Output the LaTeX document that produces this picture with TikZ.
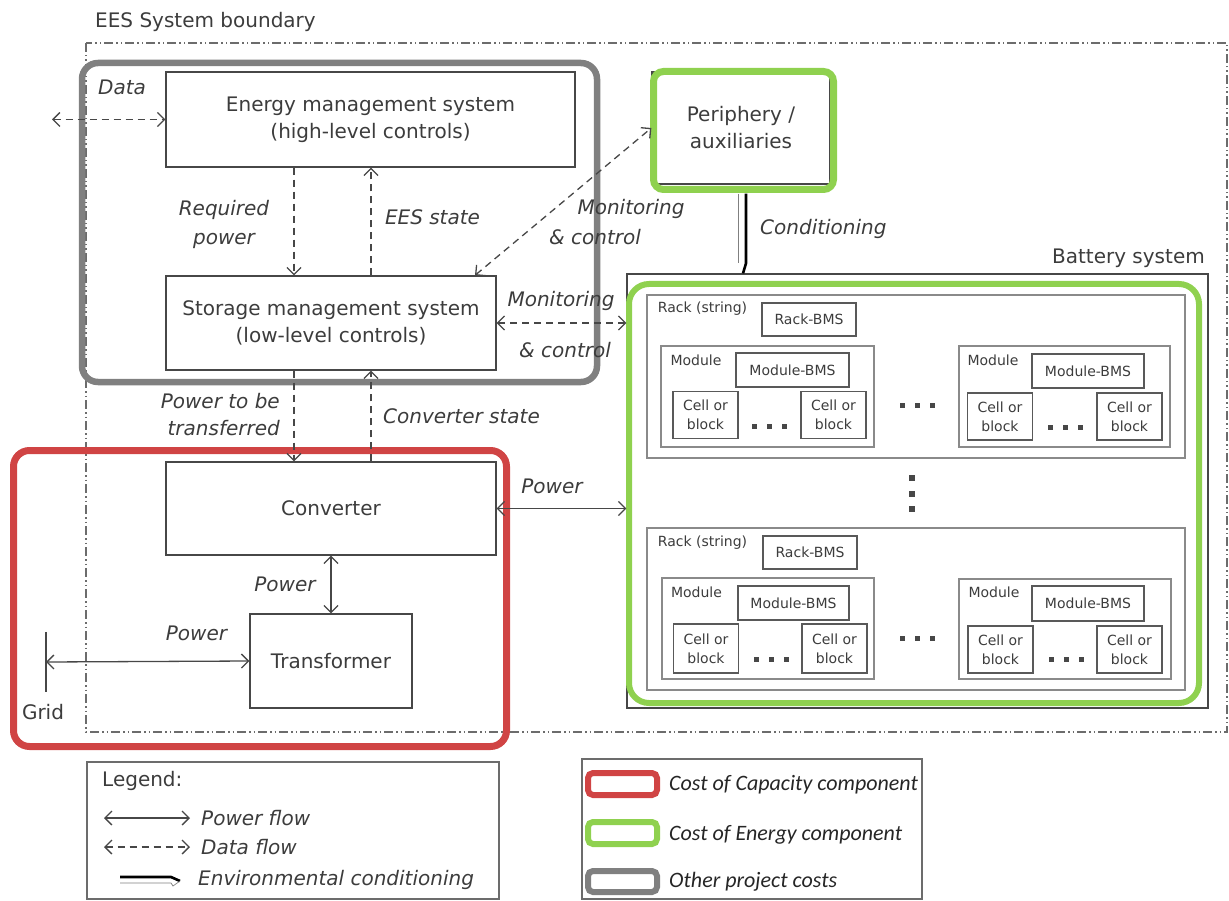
\documentclass[tikz,border=0pt]{standalone}
\usepackage{fontspec}
\setmainfont{DejaVu Sans}
\newfontfamily\carl{Carlito}
\usetikzlibrary{arrows.meta,calc}
\definecolor{txt}{HTML}{3C3C3C}
\definecolor{ln}{HTML}{474747}
\definecolor{frgray}{HTML}{808080}
\definecolor{frred}{HTML}{D04444}
\definecolor{frgreen}{HTML}{8FD14F}
\definecolor{bxgray}{HTML}{8A8A8A}
\newcommand{\sqdots}[2]{\foreach \dx in {-15,0,15}{\fill[ln] ({#1+(\dx)-2.5},{#2-2.5}) rectangle +(5,5);}}
\begin{document}
\begin{tikzpicture}[x=1pt,y=-1pt,
  every node/.style={text=txt, inner sep=0pt},
  >={Straight Barb[length=7pt,width=14pt]},
  mainbox/.style={draw=ln, line width=1.3pt, align=center, font=\fontsize{20}{27}\selectfont},
  lbl/.style={font=\fontsize{20}{29}\selectfont\itshape, align=center},
  uplbl/.style={font=\fontsize{20}{24}\selectfont},
  smalltext/.style={font=\fontsize{14}{19}\selectfont, align=center},
  rackbox/.style={draw=bxgray, line width=1.6pt},
  bmsbox/.style={draw=ln!90, line width=1.4pt, smalltext},
  cellbox/.style={draw=ln!90, line width=1.4pt, smalltext, minimum width=65pt, minimum height=47pt},
  pflow/.style={draw=ln, line width=1.3pt, <->},
  dflowtwo/.style={draw=ln, line width=1.3pt, <->, dash pattern=on 7pt off 5pt},
  dflowone/.style={draw=ln, line width=1.3pt, ->, dash pattern=on 7pt off 5pt},
  legtext/.style={font=\carl\fontsize{22}{24}\selectfont\itshape, anchor=west, text=black!85}
]
\useasboundingbox (0,0) rectangle (1229,901);

% system boundary
\draw[ln!80, line width=1.2pt, dash pattern=on 9pt off 3pt on 1.5pt off 3pt on 1.5pt off 3pt] (86,43) rectangle (1227,732);
\node[uplbl, anchor=west] (eesb) at (95,22) {EES System boundary};

% main boxes
\node[mainbox, minimum width=409pt, minimum height=95pt] (ems) at (370.5,119.5) {Energy management system\\(high-level controls)};
\node[mainbox, minimum width=330pt, minimum height=94pt] (sms) at (331,323) {Storage management system\\(low-level controls)};
\node[mainbox, minimum width=330pt, minimum height=93pt] (conv) at (331,508.5) {Converter};
\node[mainbox, minimum width=162pt, minimum height=94pt] (trans) at (331,661) {Transformer};
\node[mainbox, minimum width=178pt, minimum height=112pt] (peri) at (741,128) {Periphery /\\auxiliaries};
\node[draw=ln, line width=1.3pt, minimum width=581pt, minimum height=434pt] (bat) at (917.5,491) {};
\node[uplbl, anchor=east] (batl) at (1205,258) {Battery system};

% racks
\node[rackbox, minimum width=538pt, minimum height=163pt] (rack1) at (916,376.5) {};
\node[rackbox, minimum width=538pt, minimum height=162pt] (rack2) at (916,609) {};
\node[smalltext] (rl1) at (702.5,309) {Rack (string)};
\node[smalltext] (rl2) at (702.5,543) {Rack (string)};
\node[bmsbox, minimum width=94pt, minimum height=33pt] (rb1) at (809,319.5) {Rack-BMS};
\node[bmsbox, minimum width=94pt, minimum height=33pt] (rb2) at (810,552.5) {Rack-BMS};

% modules
\node[rackbox, minimum width=213pt, minimum height=101pt] (m1) at (767.5,396.5) {};
\node[rackbox, minimum width=211pt, minimum height=101pt] (m2) at (1064.5,396.5) {};
\node[rackbox, minimum width=212pt, minimum height=101pt] (m3) at (768,628.5) {};
\node[rackbox, minimum width=212pt, minimum height=100pt] (m4) at (1065,629) {};
\node[smalltext] (ml1) at (696,360) {Module};
\node[smalltext] (ml2) at (993,360) {Module};
\node[smalltext] (ml3) at (696.5,592) {Module};
\node[smalltext] (ml4) at (994,592) {Module};
\node[bmsbox, minimum width=113pt, minimum height=34pt] (mb1) at (792.5,370) {Module-BMS};
\node[bmsbox, minimum width=112pt, minimum height=34pt] (mb2) at (1088,371) {Module-BMS};
\node[bmsbox, minimum width=111pt, minimum height=34pt] (mb3) at (793.5,603) {Module-BMS};
\node[bmsbox, minimum width=112pt, minimum height=35pt] (mb4) at (1088,603.5) {Module-BMS};

% cells
\node[cellbox] (c11) at (705.5,415) {Cell or\\block};
\node[cellbox] (c12) at (833.5,415) {Cell or\\block};
\node[cellbox] (c21) at (1000,416.5) {Cell or\\block};
\node[cellbox] (c22) at (1129.5,416.5) {Cell or\\block};
\node[cellbox, minimum height=49pt] (c31) at (706,648.5) {Cell or\\block};
\node[cellbox, minimum height=49pt] (c32) at (834.5,648.5) {Cell or\\block};
\node[cellbox, minimum height=47pt] (c41) at (1000.5,649.5) {Cell or\\block};
\node[cellbox, minimum height=47pt] (c42) at (1129.5,649.5) {Cell or\\block};

% dots
\sqdots{769.5}{426}
\sqdots{917}{405}
\sqdots{1065}{427}
\sqdots{771}{659}
\sqdots{917.5}{638}
\sqdots{1066}{659}
\foreach \dy in {478,493.5,509}{\fill[ln] (909,{\dy-3}) rectangle +(6,6);}

% cost frames
\draw[frgray, line width=6.5pt, rounded corners=16pt] (82,63) rectangle (597,382);
\draw[frred, line width=7pt, rounded corners=16pt] (13.5,450.5) rectangle (506.5,746.5);
\draw[frgreen, line width=6pt, rounded corners=20pt] (629,284) rectangle (1199,703);
\draw[frgreen, line width=7pt, rounded corners=10pt] (653.5,71.5) rectangle (833.5,189.5);

% labels
\node[lbl, anchor=west] (datal) at (98,87) {Data};
\node[lbl] (reql) at (224,224.5) {Required\\power};
\node[lbl] (eesl) at (432.5,217) {EES state};
\node[lbl] (mon1a) at (631,209) {Monitoring};
\node[lbl] (mon1b) at (595,237) {\& control};
\node[lbl] (mon2a) at (561,301) {Monitoring};
\node[lbl] (mon2b) at (565,350) {\& control};
\node[lbl, align=right, anchor=east, font=\fontsize{20}{27}\selectfont\itshape] (ptl) at (280,414.5) {Power to be\\transferred};
\node[lbl, anchor=west] (csl) at (383,416) {Converter state};
\node[lbl] (pw1) at (552,486) {Power};
\node[lbl] (pw2) at (285,584) {Power};
\node[lbl] (pw3) at (196.5,633) {Power};
\node[lbl, anchor=west] (condl) at (760,229) {Conditioning};
\node[uplbl] (gridl) at (43,712) {Grid};

% connectors
\coordinate (cxa) at (294,0);
\coordinate (cxb) at (371,0);
\coordinate (cxc) at (475,0);
\coordinate (dataend) at (52,119.5);
\draw[dflowone] (ems.south -| cxa) -- (sms.north -| cxa);
\draw[dflowone] (sms.north -| cxb) -- (ems.south -| cxb);
\draw[dflowone] (sms.south -| cxa) -- (conv.north -| cxa);
\draw[dflowone] (conv.north -| cxb) -- (sms.south -| cxb);
\draw[dflowtwo] (sms.east) -- (sms.east -| bat.west);
\draw[dflowtwo] (sms.north -| cxc) -- (peri.west);
\draw[dflowtwo] (dataend) -- (ems.west);
\draw[pflow] (conv.east) -- (conv.east -| bat.west);
\draw[pflow] (conv.south) -- (trans.north);
\node[minimum height=60pt, minimum width=0pt] (grid) at (46,662) {};
\draw[ln, line width=2pt] (grid.north) -- (grid.south);
\draw[pflow] (grid.center) -- (trans.west);

% conditioning arrow
\draw[black, line width=2.6pt] ($(peri.south)+(5,9)$) -- ($(bat.north -| peri.south)+(5,-10)$) -- ($(bat.north -| peri.south)+(2,0)$);
\draw[gray, line width=0.7pt] ($(peri.south)+(-3,9)$) -- ($(bat.north -| peri.south)+(-3,-10)$);

% legend left
\node[draw=ln!80, line width=1.6pt, minimum width=412pt, minimum height=137pt] (leg) at (293,830.5) {};
\node[uplbl, anchor=west] (legt) at (102,781) {Legend:};
\coordinate (lpa) at (104,818); \coordinate (lpb) at (190,818);
\draw[pflow] (lpa) -- (lpb);
\node[lbl, anchor=west] (lpt) at (201,818) {Power flow};
\coordinate (lda) at (104,847); \coordinate (ldb) at (190,847);
\draw[dflowtwo] (lda) -- (ldb);
\node[lbl, anchor=west] (ldt) at (201,847) {Data flow};
\coordinate (lea) at (120,880); \coordinate (leb) at (180,880);
\draw[black, line width=2.6pt] ($(lea)+(0,-3)$) -- ($(leb)+(-9,-3)$) -- ($(leb)+(0,1)$);
\draw[gray, line width=0.7pt] ($(lea)+(0,3)$) -- ($(leb)+(-9,3)$) -- ($(leb)+(-7,6)$) -- ($(leb)+(0,1)$);
\node[lbl, anchor=west] (let) at (198,880) {Environmental conditioning};

% legend right
\node[draw=ln!80, line width=1.6pt, minimum width=340pt, minimum height=140pt] (leg2) at (752,829) {};
\draw[frred, line width=6pt, rounded corners=5pt] (588,773) rectangle (657,795);
\draw[frgreen, line width=6pt, rounded corners=5pt] (588,822) rectangle (657,844);
\draw[frgray, line width=6pt, rounded corners=5pt] (588,871) rectangle (657,892);
\node[legtext] (lg1) at (669,785) {Cost of Capacity component};
\node[legtext] (lg2) at (669,835) {Cost of Energy component};
\node[legtext] (lg3) at (669,882) {Other project costs};
\end{tikzpicture}
\end{document}
